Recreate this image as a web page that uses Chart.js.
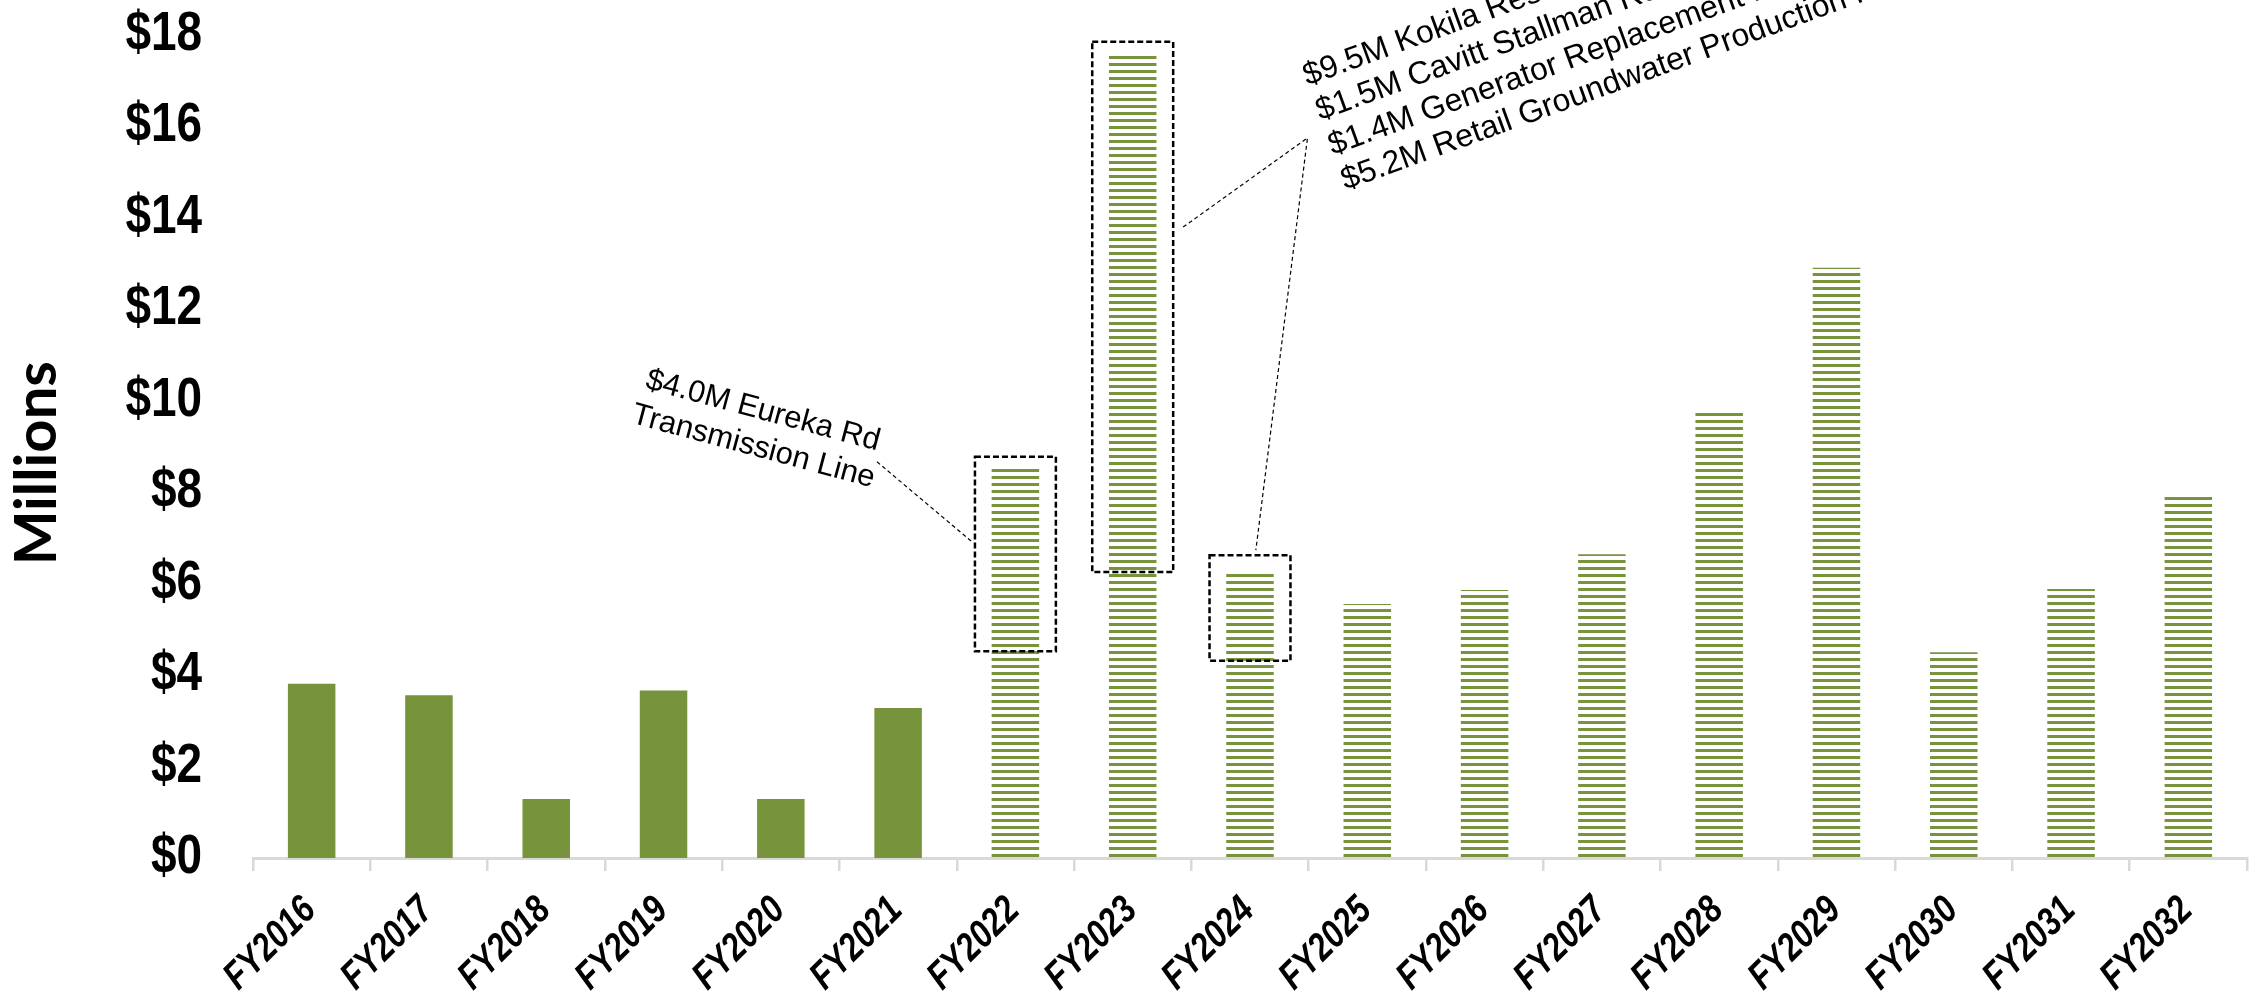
<!DOCTYPE html>
<html>
<head>
<meta charset="utf-8">
<title>Capital spending FY2016 - FY2032</title>
<script src="https://cdn.jsdelivr.net/npm/chart.js@4.4.1/dist/chart.umd.min.js"></script>
<style>
  html, body { margin: 0; padding: 0; background: #fff; }
  canvas { display: block; }
</style>
</head>
<body>
<canvas id="chart" width="2253" height="999"></canvas>
<script>
const LABELS = ['FY2016', 'FY2017', 'FY2018', 'FY2019', 'FY2020', 'FY2021', 'FY2022', 'FY2023',
  'FY2024', 'FY2025', 'FY2026', 'FY2027', 'FY2028', 'FY2029', 'FY2030', 'FY2031', 'FY2032'];

// $ millions
const ACTUAL = [3.81, 3.56, 1.29, 3.66, 1.29, 3.28, null, null, null, null, null, null, null, null, null, null, null];
const PROJECTED = [null, null, null, null, null, null, 8.52, 17.55, 6.21, 5.55, 5.86, 6.64, 9.77, 12.9, 4.5, 5.88, 7.91];

const Y_MIN = 0;
const Y_MAX = 18;
const Y_STEP = 2;

// callouts, in category index / $ millions
const BOXES = [
  { index: 6, from: 4.52, to: 8.77 },
  { index: 7, from: 6.25, to: 17.84 },
  { index: 8, from: 4.31, to: 6.62 },
];
const EUREKA_NOTE = ['$4.0M Eureka Rd', 'Transmission Line'];
const FY23_NOTE = [
  '$9.5M Kokila Reservoir Replacement',
  '$1.5M Cavitt Stallman Rd Main',
  '$1.4M Generator Replacement Program',
  '$5.2M Retail Groundwater Production Facility',
];
const EUREKA_LEADER = [[4.82, 8.66], [5.64, 6.89]];
const FY23_LEADER = [[7.43, 13.79], [8.49, 15.74], [8.05, 6.73]];

const GREEN = '#77933C';
const SANS = "'Liberation Sans', Arial, sans-serif";
// no narrow face installed, so squeeze the bold one
const NARROW_X = 0.82;

function stripes(color) {
  let c = document.createElement('canvas');
  c.width = 8;
  c.height = 7;
  let g = c.getContext('2d');
  g.fillStyle = color;
  g.fillRect(0, 0, 8, 3);
  return g.createPattern(c, 'repeat');
}

const tickLabels = {
  id: 'tickLabels',
  afterDraw(chart) {
    let { ctx, scales: { x, y } } = chart;
    ctx.save();
    ctx.fillStyle = '#000';

    ctx.font = `bold 56px ${SANS}`;
    ctx.textAlign = 'right';
    ctx.textBaseline = 'middle';
    y.ticks.forEach((t, i) => {
      ctx.save();
      ctx.translate(y.right - 51, y.getPixelForTick(i));
      ctx.scale(NARROW_X, 1);
      ctx.fillText('$' + t.value, 0, 0);
      ctx.restore();
    });

    ctx.font = `italic bold 39px ${SANS}`;
    ctx.textBaseline = 'alphabetic';
    x.ticks.forEach((t, i) => {
      ctx.save();
      ctx.translate(x.getPixelForTick(i) + 6, x.top + 54);
      ctx.rotate(-Math.PI / 4);
      ctx.scale(NARROW_X, 1);
      ctx.fillText(x.getLabelForValue(t.value), 0, 0);
      ctx.restore();
    });
    ctx.restore();
  },
};

const callouts = {
  id: 'callouts',
  afterDatasetsDraw(chart) {
    let { ctx, chartArea, scales: { x, y } } = chart;
    let catW = x.getPixelForValue(1) - x.getPixelForValue(0);
    let pt = ([i, v]) => [x.getPixelForValue(i), y.getPixelForValue(v)];

    ctx.save();
    ctx.strokeStyle = '#000';
    ctx.lineWidth = 2.5;
    ctx.setLineDash([6, 3]);
    BOXES.forEach(b => {
      let cx = x.getPixelForValue(b.index);
      let top = y.getPixelForValue(b.to);
      let bottom = y.getPixelForValue(b.from);
      ctx.strokeRect(cx - 0.345 * catW, top, 0.69 * catW, bottom - top);
    });

    ctx.lineWidth = 1.2;
    ctx.setLineDash([4, 3]);
    [EUREKA_LEADER, FY23_LEADER].forEach(line => {
      ctx.beginPath();
      line.forEach((p, k) => {
        let [px, py] = pt(p);
        if (k) ctx.lineTo(px, py);
        else ctx.moveTo(px, py);
      });
      ctx.stroke();
    });
    ctx.setLineDash([]);

    ctx.fillStyle = '#000';

    // Eureka note, centred block tilted down
    ctx.font = `31px ${SANS}`;
    let [ex, ey] = pt([3.807, 9.39]);
    ctx.save();
    ctx.translate(ex, ey);
    ctx.rotate(15 * Math.PI / 180);
    ctx.textAlign = 'center';
    ctx.textBaseline = 'middle';
    ctx.fillText(EUREKA_NOTE[0], 0, -18);
    ctx.fillText(EUREKA_NOTE[1], 0, 19);
    ctx.restore();

    // FY2023/24 note, runs off the top edge
    ctx.font = `32px ${SANS}`;
    let [fx, fy] = pt([8.814, 14.6]);
    ctx.save();
    ctx.translate(fx, fy);
    ctx.rotate(-20 * Math.PI / 180);
    ctx.textAlign = 'left';
    ctx.textBaseline = 'alphabetic';
    FY23_NOTE.forEach((t, i) => ctx.fillText(t, 0, (i - 3) * 37));
    ctx.restore();

    // axis title
    ctx.save();
    ctx.translate(37, (chartArea.top + chartArea.bottom) / 2 + 17);
    ctx.rotate(-Math.PI / 2);
    ctx.font = "bold 58px Lato, 'Liberation Sans', sans-serif";
    ctx.textAlign = 'center';
    ctx.textBaseline = 'middle';
    ctx.fillText('Millions', 0, 0);
    ctx.restore();

    ctx.restore();
  },
};

new Chart(document.getElementById('chart'), {
  type: 'bar',
  data: {
    labels: LABELS,
    datasets: [
      { label: 'Actual', data: ACTUAL, backgroundColor: GREEN },
      { label: 'Projected', data: PROJECTED, backgroundColor: stripes(GREEN) },
    ],
  },
  options: {
    responsive: false,
    devicePixelRatio: 1,
    animation: false,
    layout: { padding: { left: 0, right: 6, top: 34.5, bottom: 0 } },
    datasets: {
      bar: { grouped: false, categoryPercentage: 1, barPercentage: 0.405 },
    },
    plugins: {
      legend: { display: false },
      tooltip: { enabled: false },
    },
    scales: {
      x: {
        offset: true,
        grid: { offset: true, drawOnChartArea: false, drawTicks: true, tickLength: 13, color: '#d9d9d9', lineWidth: 2.5 },
        border: { display: true, color: '#d9d9d9', width: 3 },
        ticks: { display: false, autoSkip: false },
        afterFit: s => {
          s.height = 141;
          s.paddingLeft = s.paddingRight = 0;
        },
      },
      y: {
        min: Y_MIN,
        max: Y_MAX,
        grid: { display: false, drawTicks: false },
        border: { display: false },
        ticks: { display: false, stepSize: Y_STEP },
        afterFit: s => {
          s.width = 253;
          s.paddingTop = s.paddingBottom = 0;
        },
      },
    },
  },
  plugins: [callouts, tickLabels],
});
</script>
</body>
</html>
